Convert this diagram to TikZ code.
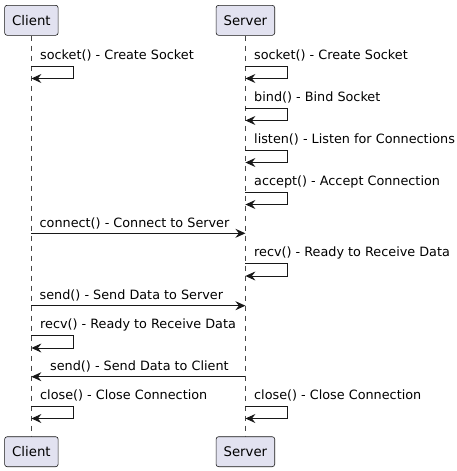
\documentclass[tikz,border=0pt]{standalone}
\usepackage{fontspec}
\setmainfont{DejaVu Sans}
\usetikzlibrary{arrows.meta}
\definecolor{partfill}{HTML}{E2E2F0}
\definecolor{umlline}{HTML}{181818}

\begin{document}
\begin{tikzpicture}[> = {Stealth[length=10pt, width=9pt, inset=3.5pt]}, x=1pt, y=-1pt,
    actor/.style={draw=umlline, fill=partfill, rounded corners=2.5pt, line width=0.6pt,
        minimum height=30pt, inner xsep=7.5pt, font=\fontsize{13.3}{15}\selectfont},
    msg/.style={anchor=base west, inner sep=0pt, font=\fontsize{12.8}{15}\selectfont},
    life/.style={umlline!80, dash pattern=on 5pt off 5pt, line width=0.5pt},
    call/.style={->, umlline, line width=0.9pt}]
    \useasboundingbox (0,0) rectangle (457,471);
    \def\cx{31.4}
    \def\sx{245.4}
    % Participants
    \node [actor] (cTop) at (\cx, 20.3) {Client};
    \node [actor] (sTop) at (\sx, 20.3) {Server};
    \node [actor] (cBot) at (\cx, 451.7) {Client};
    \node [actor] (sBot) at (\sx, 451.7) {Server};
    % Lifelines
    \draw [life] (cTop) -- (cBot);
    \draw [life] (sTop) -- (sBot);
    % Self calls
    \foreach \x/\y/\txt [count=\i] in {
        \cx/66/{socket() - Create Socket},
        \sx/66/{socket() - Create Socket},
        \sx/108/{bind() - Bind Socket},
        \sx/150/{listen() - Listen for Connections},
        \sx/192/{accept() - Accept Connection},
        \sx/263.5/{recv() - Ready to Receive Data},
        \cx/335.5/{recv() - Ready to Receive Data},
        \cx/406/{close() - Close Connection},
        \sx/406/{close() - Close Connection}}{
        \coordinate (out\i) at (\x, \y);
        \coordinate (back\i) at (\x, \y+12.5);
        \draw [call] (out\i) -- ++(42, 0) -- ++(0, 12.5) -- (back\i);
        \node [msg] (self\i) at (\x+8.6, \y-7) {\txt};
    }
    % Messages
    \foreach \from/\to/\y/\lx/\txt [count=\i] in {
        \cx/\sx/233.3/39.5/{connect() - Connect to Server},
        \cx/\sx/305.7/39.5/{send() - Send Data to Server},
        \sx/\cx/376.7/50/{send() - Send Data to Client}}{
        \coordinate (src\i) at (\from, \y);
        \coordinate (dst\i) at (\to, \y);
        \draw [call] (src\i) -- (dst\i);
        \node [msg] (note\i) at (\lx, \y-5.8) {\txt};
    }
\end{tikzpicture}
\end{document}
